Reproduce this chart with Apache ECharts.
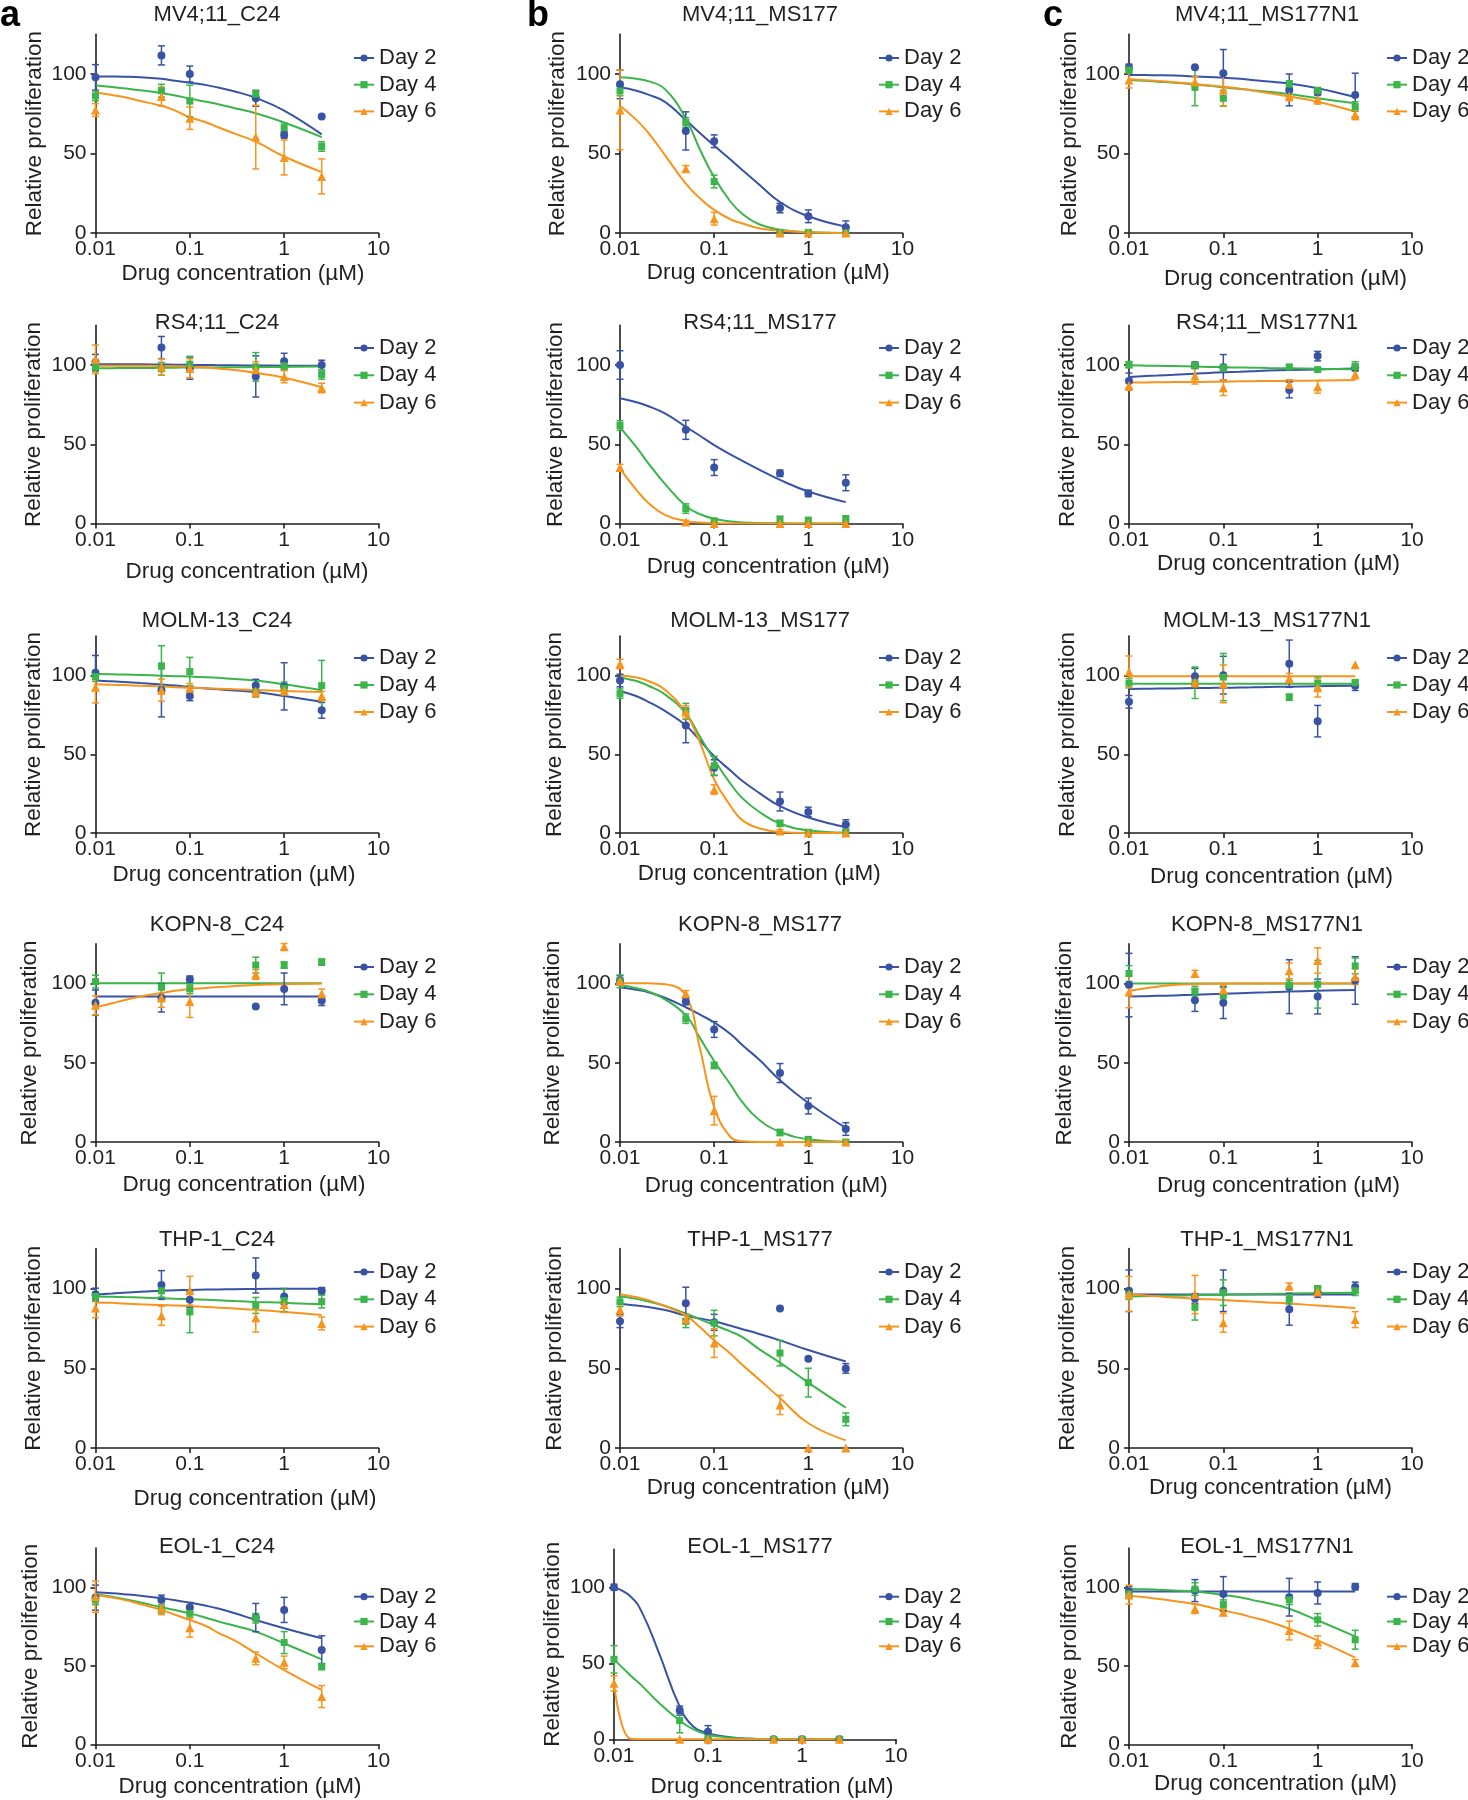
<!DOCTYPE html>
<html><head><meta charset="utf-8">
<script src="https://cdn.jsdelivr.net/npm/echarts@6/dist/echarts.min.js"></script>
<style>html,body{margin:0;padding:0;background:#fff}#c{width:1468px;height:1800px}</style>
</head><body><div id="c"></div>
<script>
// ---------------- DATA ----------------
const concentrations = [0.01, 0.05, 0.1, 0.5, 1, 2.5];
const fitConcentrations = [0.01, 0.015, 0.02, 0.03, 0.05, 0.07, 0.1, 0.15, 0.2, 0.3, 0.5, 1, 2.5];
const days = ['Day 2', 'Day 4', 'Day 6'];
const xTicks = [0.01, 0.1, 1, 10];
const yTicks = [0, 50, 100];
const panelTitles = [
  'MV4;11_C24', 'MV4;11_MS177', 'MV4;11_MS177N1',
  'RS4;11_C24', 'RS4;11_MS177', 'RS4;11_MS177N1',
  'MOLM-13_C24', 'MOLM-13_MS177', 'MOLM-13_MS177N1',
  'KOPN-8_C24', 'KOPN-8_MS177', 'KOPN-8_MS177N1',
  'THP-1_C24', 'THP-1_MS177', 'THP-1_MS177N1',
  'EOL-1_C24', 'EOL-1_MS177', 'EOL-1_MS177N1'
];
const panelLetters = ['a', 'b', 'c'];

// MV4;11
const mv411_c24_mean = [[97.9, 111.7, 100, 84.7, 61.7, 73.2], [86.2, 89.5, 83, 87.4, 66.3, 54.4], [77.4, 85.8, 72.2, 60.3, 47.5, 35.6]];
const mv411_c24_sd = [[8, 6, 5, 5, 2, 0], [3, 4, 10, 2, 3, 3], [4, 6, 7, 20, 11, 11]];
const mv411_c24_fit = [[98.5, 98.4, 98.3, 98, 97, 95.8, 94.5, 93, 91.5, 89, 85, 77, 62], [92.7, 91.8, 91, 89.8, 88, 86.5, 84.5, 82.5, 81, 78.5, 75.3, 69.5, 60.3], [88.3, 86.8, 85.5, 83, 80, 77, 72.8, 69.5, 66.5, 62.5, 57.5, 48.1, 38.3]];

const mv411_ms177_mean = [[93.5, 64.2, 57.7, 15.7, 10.5, 3.6], [89.3, 69.5, 32.4, 0.4, 0.4, 0], [77.4, 40.4, 9, 0, 0, 0]];
const mv411_ms177_sd = [[9, 12, 4, 3, 4, 4], [3, 3, 4, 1, 1, 0.5], [25, 2, 4, 0, 0, 0]];
const mv411_ms177_fit = [[91.6, 89.5, 87, 82.5, 71, 63, 55, 46, 39.5, 30.5, 19.5, 10.5, 4], [97.9, 97, 95.5, 90.5, 72, 53, 35, 19.5, 12, 5.5, 2, 0.4, 0], [80, 71, 63, 49, 31, 22, 14.5, 8.5, 6, 3, 1.5, 0.5, 0]];

const mv411_ms177n1_mean = [[104.2, 104.2, 100.4, 90, 88.5, 86.8], [102.5, 91.6, 84.7, 93.7, 89.5, 79.5], [96.2, 95.2, 90, 86.2, 84.1, 74.3]];
const mv411_ms177n1_sd = [[2, 0, 15, 10, 2, 13.7], [2, 11.5, 5, 2, 2, 3], [5, 3, 10, 3, 3, 3]];
const mv411_ms177n1_fit = [[99.4, 99.3, 99.2, 99, 98.5, 98.1, 97.7, 97, 96.3, 95.3, 94, 91, 85.4], [96.2, 95.7, 95.2, 94.5, 93.4, 92.6, 91.6, 90.6, 89.8, 88.8, 87.4, 84.7, 81.6], [96.7, 96.1, 95.6, 94.8, 93.7, 92.9, 92, 90.8, 89.7, 88, 85.8, 82.6, 76.4]];

// RS4;11
const rs411_c24_mean = [[101.7, 111, 98, 92.8, 102.4, 100], [98.8, 97.6, 100.5, 98.8, 99.5, 94], [103.6, 98.8, 98, 97, 92.8, 85.5]];
const rs411_c24_sd = [[5, 7, 7, 13, 5, 3], [3, 4, 5, 9, 3, 3], [9, 5, 6, 5, 4, 3]];
const rs411_c24_fit = [[100.5, 100.5, 100.4, 100.4, 100.3, 100.2, 100.1, 100, 99.9, 99.8, 99.7, 99.6, 99.5], [98, 98, 98.1, 98.1, 98.2, 98.3, 98.4, 98.5, 98.5, 98.6, 98.7, 98.8, 99], [99.6, 99.6, 99.6, 99.5, 99.4, 99.2, 98.9, 98.4, 97.8, 96.8, 95, 92, 86]];

const rs411_ms177_mean = [[100, 59.1, 35.3, 31.7, 19, 25.7], [61.8, 9.4, 1.4, 2.6, 1.9, 2.9], [35.3, 1, 0, 0, 0, 0]];
const rs411_ms177_sd = [[9, 6, 5, 2, 2, 5], [3, 3, 2, 2, 2, 2], [2, 1, 0, 0, 0, 0]];
const rs411_ms177_fit = [[79, 76.5, 74, 69.5, 61, 55.5, 49.5, 43.5, 39.5, 34, 27.5, 20.2, 13.5], [60.6, 48, 38, 25, 11, 6, 3, 1.3, 0.7, 0.3, 0.1, 0, 0], [34.6, 21, 13, 5.5, 1.5, 0.6, 0.2, 0, 0, 0, 0, 0, 0]];

const rs411_ms177n1_mean = [[89.9, 99.8, 98.6, 84.3, 105.6, 98.3], [100.2, 99.8, 98.3, 98.8, 97.1, 99], [87, 93, 85.7, 87.7, 86.2, 94.2]];
const rs411_ms177n1_sd = [[5, 2, 8, 5, 3, 2], [2, 2, 2, 1, 1, 3], [3, 5, 5, 3, 4, 3]];
const rs411_ms177n1_fit = [[92.5, 93, 93.3, 93.8, 94.5, 95, 95.4, 95.8, 96.1, 96.5, 96.8, 97.2, 97.8], [99.8, 99.6, 99.5, 99.3, 99, 98.8, 98.6, 98.4, 98.3, 98.1, 97.9, 97.6, 97.3], [88.9, 89, 89.1, 89.2, 89.3, 89.4, 89.5, 89.7, 89.8, 89.9, 90, 90.2, 90.6]];

// MOLM-13
const molm13_c24_mean = [[101.7, 90.7, 87, 93.6, 93.1, 77.9], [99.3, 105.9, 102.5, 89.5, 91.9, 93.6], [92.6, 90.7, 91.9, 90.2, 90.7, 87]];
const molm13_c24_sd = [[11, 17, 3, 4, 15, 5], [3, 13, 9, 3, 4, 16], [10, 7, 3, 4, 3, 3]];
const molm13_c24_fit = [[96.8, 96.3, 95.9, 95.2, 94.3, 93.6, 92.6, 91.8, 91.2, 90.4, 89.5, 87, 83.3], [101, 100.8, 100.6, 100.3, 99.9, 99.6, 99.3, 98.9, 98.5, 97.8, 96.8, 94.4, 90.7], [94.4, 94.1, 93.9, 93.5, 93, 92.6, 92.3, 91.9, 91.6, 91.2, 90.8, 90.2, 89.5]];

const molm13_ms177_mean = [[96.8, 68.3, 41.5, 20, 13.4, 5.4], [88.5, 77.3, 42.7, 6.1, 0.5, 0.5], [107.3, 76.8, 27.6, 1.2, 0, 0]];
const molm13_ms177_sd = [[4, 11, 5, 6, 3, 3], [3, 5, 6, 2, 1, 1], [3, 4, 3, 1, 0, 0]];
const molm13_ms177_fit = [[90.2, 86.8, 83.3, 77.5, 68.3, 59, 48.8, 39.5, 33, 25.5, 17, 9.8, 3.7], [98.8, 96.5, 93.5, 88, 76, 61.5, 46.5, 31, 22, 13.5, 6, 1.7, 0.2], [100, 98.7, 96.5, 91, 76, 58, 34, 17, 8, 3, 0.6, 0, 0]];

const molm13_ms177n1_mean = [[83.3, 99.5, 100.2, 107.5, 71, 93.5], [95.2, 95.4, 99, 86.2, 95.2, 95.4], [102.4, 95.9, 94.7, 98.3, 92.3, 106.8]];
const molm13_ms177n1_sd = [[4, 5, 12, 15, 10, 3], [3, 10, 15, 2, 4, 2], [10, 3, 12, 3, 6, 0]];
const molm13_ms177n1_fit = [[91.5, 91.6, 91.7, 91.8, 92, 92.1, 92.2, 92.4, 92.5, 92.7, 92.9, 93.2, 93.5], [94.7, 94.7, 94.7, 94.7, 94.7, 94.7, 94.7, 94.7, 94.7, 94.7, 94.7, 94.7, 94.7], [99.5, 99.5, 99.5, 99.5, 99.5, 99.5, 99.5, 99.5, 99.5, 99.5, 99.5, 99.5, 99.5]];

// KOPN-8
const kopn8_c24_mean = [[87.9, 91, 102.7, 85.5, 96.6, 89.1], [101.2, 97.6, 96.6, 111.6, 111.6, 113.5], [86.2, 91, 88.6, 105.6, 123.2, 93.5]];
const kopn8_c24_sd = [[8, 9, 2, 0, 10, 3], [4, 9, 3, 5, 2, 2], [6, 6, 10, 3, 2, 3]];
const kopn8_c24_fit = [[91.8, 91.8, 91.8, 91.8, 91.8, 91.8, 91.8, 91.8, 91.8, 91.8, 91.8, 91.8, 91.8], [100.2, 100.2, 100.2, 100.2, 100.2, 100.2, 100.2, 100.2, 100.2, 100.2, 100.2, 100.2, 100.2], [85, 87.5, 89.4, 91.8, 94, 95.4, 96.4, 97.2, 97.8, 98.4, 99, 99.6, 100]];

const kopn8_ms177_mean = [[101.9, 88.6, 71, 43.5, 22.7, 8.2], [101.4, 77.8, 48.3, 6, 1.4, 0], [101.4, 93.5, 19.8, 0, 0, 0]];
const kopn8_ms177_sd = [[3, 2, 5, 6, 5, 4], [4, 3, 2, 2, 2, 1], [2, 2, 9, 0, 0, 0]];
const kopn8_ms177_fit = [[97.6, 96, 94.5, 91, 85, 80.5, 75.4, 68, 61, 52, 39, 24.6, 8.9], [99, 97, 95, 90, 80, 66, 51, 36, 25, 14, 6.5, 1.7, 0.2], [100.2, 100.2, 100.1, 99.5, 92.3, 60, 22, 3, 0.5, 0, 0, 0, 0]];

const kopn8_ms177n1_mean = [[99, 89.4, 87.9, 98, 91.8, 101.9], [106.3, 95.2, 92.3, 99, 99.5, 111.1], [94.7, 106.3, 96, 108, 114.5, 104.3]];
const kopn8_ms177n1_sd = [[20, 7, 10, 17, 11, 15], [5, 3, 5, 3, 15, 5], [10, 2, 3, 5, 8, 5]];
const kopn8_ms177n1_fit = [[91.8, 92, 92.2, 92.5, 92.9, 93.2, 93.5, 93.9, 94.2, 94.5, 94.9, 95.4, 95.9], [100, 100, 100, 100, 100, 100, 100, 100, 100, 100, 100, 100, 100], [95.4, 97, 98, 99, 99.6, 99.8, 99.9, 100, 100, 100, 100, 100, 100]];

// THP-1
const thp1_c24_mean = [[96.2, 102.2, 93, 108.2, 95, 98.6], [95, 98.6, 85.3, 89.4, 92.5, 91.8], [87.7, 82.9, 98.6, 81.7, 90, 78.1]];
const thp1_c24_sd = [[4, 9, 5, 11, 5, 2], [3, 4, 13, 5, 7, 4], [6, 6, 9, 9, 5, 4]];
const thp1_c24_fit = [[96.2, 96.9, 97.4, 98, 98.6, 98.9, 99.1, 99.3, 99.4, 99.6, 99.7, 99.8, 99.8], [95, 94.8, 94.6, 94.3, 93.9, 93.6, 93.3, 92.9, 92.6, 92.1, 91.6, 91, 90.1], [91.3, 91, 90.6, 90.1, 89.6, 89.3, 88.9, 88.4, 88, 87.4, 86.6, 85.3, 83.4]];

const thp1_ms177_mean = [[79.5, 90.8, 78.8, 87.5, 55.9, 49.9], [91.6, 79.5, 78.3, 59.5, 41, 18], [86.7, 80.7, 65.8, 27, 0, 0]];
const thp1_ms177_sd = [[4, 10, 5, 0, 0, 3], [3, 4, 8, 8, 9, 4], [4, 3, 9, 6, 0, 0]];
const thp1_ms177_fit = [[90.4, 89.3, 88.4, 86.5, 83.1, 81.2, 79.5, 76.6, 74.5, 71.5, 67.5, 61.4, 54.2], [95.2, 93.5, 91.8, 89, 84.3, 80.8, 77.1, 73, 69.5, 62, 53.5, 41, 25.3], [96.4, 94.5, 92.7, 89, 83.1, 76, 67.5, 59, 52, 43, 31.3, 15.5, 4.8]];

const thp1_ms177n1_mean = [[98.6, 93.8, 98.6, 87, 97.4, 101], [96.2, 88.2, 97.4, 93.3, 99.8, 98.6], [96.6, 96.2, 78.6, 101.4, 98.1, 80.5]];
const thp1_ms177n1_sd = [[13, 3, 13, 10, 3, 3], [3, 8, 8, 3, 2, 3], [11, 12, 6, 2, 3, 5]];
const thp1_ms177n1_fit = [[96.2, 96.2, 96.2, 96.2, 96.2, 96.2, 96.2, 96.2, 96.2, 96.2, 96.2, 96.2, 96.2], [95, 95.2, 95.3, 95.5, 95.8, 95.9, 96.1, 96.3, 96.4, 96.6, 96.8, 97.1, 97.4], [96.2, 95.6, 95.1, 94.4, 93.6, 93.2, 92.8, 92.2, 91.8, 91.3, 90.6, 89.3, 87.7]];

// EOL-1
const eol1_c24_mean = [[93.4, 92, 87.3, 80.7, 85.6, 60.1], [91.9, 86, 83.4, 80.3, 64.8, 49.5], [94, 86.6, 74.3, 54.8, 52.2, 30.4]];
const eol1_c24_sd = [[8, 3, 3, 9, 8, 9], [3, 3, 3, 3, 7, 2], [10, 4, 6, 4, 4, 7]];
const eol1_c24_fit = [[96.8, 96.2, 95.6, 94.6, 93, 91.8, 90.2, 88.2, 86.5, 83.5, 79.2, 73.9, 67.5], [95.5, 94, 92.5, 90.3, 87.3, 85.5, 83.4, 80.5, 78.3, 75.5, 71.8, 64.3, 54.1], [95.1, 93.5, 92, 89.3, 85.6, 82.5, 79.2, 75.2, 71, 66, 58, 47.3, 34.6]];

const eol1_ms177_mean = [[100, 18.9, 5, 0, 0, 0], [52.6, 12.3, 0.7, 0, 0, 0], [36.8, 0, 0, 0, 0, 0]];
const eol1_ms177_sd = [[2, 3, 4, 0.5, 0.5, 0.5], [9, 8, 0, 0, 0, 0], [5, 0, 0, 0, 0, 0]];
const eol1_ms177_fit = [[100, 94, 83, 57, 21.5, 8.3, 4, 1.8, 0.9, 0.3, 0, 0, 0], [52.6, 42, 35, 24, 12.3, 6.5, 3, 1.4, 0.8, 0.3, 0.1, 0, 0], [36.8, 0.3, 0, 0, 0, 0, 0, 0, 0, 0, 0, 0, 0]];

const eol1_ms177n1_mean = [[97.5, 97.9, 95.8, 93.7, 96.4, 100.4], [95.8, 98.9, 89, 92, 79.3, 66.6], [95.3, 86.3, 84.1, 72.5, 65.1, 52]];
const eol1_ms177n1_sd = [[3, 7, 11, 12, 7, 2], [3, 4, 3, 3, 4, 6], [6, 3, 2, 6, 4, 2]];
const eol1_ms177n1_fit = [[97.3, 97.3, 97.3, 97.3, 97.3, 97.3, 97.3, 97.3, 97.3, 97.3, 97.3, 97.3, 97.3], [98.9, 98.7, 98.4, 98, 97.3, 96.4, 95.1, 93.6, 92, 89.8, 86.3, 78.9, 68.7], [94.7, 93.6, 92.7, 91.3, 89.4, 87.4, 85.2, 83, 81, 78.2, 73.6, 66.2, 55.2]];

const panelMeans = [mv411_c24_mean, mv411_ms177_mean, mv411_ms177n1_mean, rs411_c24_mean, rs411_ms177_mean, rs411_ms177n1_mean, molm13_c24_mean, molm13_ms177_mean, molm13_ms177n1_mean, kopn8_c24_mean, kopn8_ms177_mean, kopn8_ms177n1_mean, thp1_c24_mean, thp1_ms177_mean, thp1_ms177n1_mean, eol1_c24_mean, eol1_ms177_mean, eol1_ms177n1_mean];
const panelSds = [mv411_c24_sd, mv411_ms177_sd, mv411_ms177n1_sd, rs411_c24_sd, rs411_ms177_sd, rs411_ms177n1_sd, molm13_c24_sd, molm13_ms177_sd, molm13_ms177n1_sd, kopn8_c24_sd, kopn8_ms177_sd, kopn8_ms177n1_sd, thp1_c24_sd, thp1_ms177_sd, thp1_ms177n1_sd, eol1_c24_sd, eol1_ms177_sd, eol1_ms177n1_sd];
const panelFits = [mv411_c24_fit, mv411_ms177_fit, mv411_ms177n1_fit, rs411_c24_fit, rs411_ms177_fit, rs411_ms177n1_fit, molm13_c24_fit, molm13_ms177_fit, molm13_ms177n1_fit, kopn8_c24_fit, kopn8_ms177_fit, kopn8_ms177n1_fit, thp1_c24_fit, thp1_ms177_fit, thp1_ms177n1_fit, eol1_c24_fit, eol1_ms177_fit, eol1_ms177n1_fit];

// ---------------- LAYOUT (pixels) ----------------
const colLayout = [
  { x0: 95.5, x10: 378.5, title: 217, legend: 353, letter: 0 },
  { x0: 620, x10: 902.5, title: 760, legend: 878, letter: 527 },
  { x0: 1129, x10: 1412, title: 1267, legend: 1386, letter: 1043 }
];
const rowLayout = [
  { y0: 233, y100: 74, title: 15, legend: 58, gap: 26.7 },
  { y0: 523.5, y100: 365, title: 323, legend: 348, gap: 27.3 },
  { y0: 833, y100: 675.5, title: 621, legend: 658, gap: 27 },
  { y0: 1142, y100: 983.5, title: 925, legend: 967, gap: 27.3 },
  { y0: 1448, y100: 1288.5, title: 1240, legend: 1272, gap: 27.3 },
  { y0: 1744.3, y100: 1587.3, title: 1547, legend: 1596.7, gap: 24.8 }
];
const xNameBelow = [[40, 37, 45], [47.5, 42.5, 40], [41, 40, 43], [42, 43, 43], [50, 38, 39], [42.4, 47, 39]];
const xNameShift = [[6, 7, 15], [10, 7, 8], [-3, -2, 1], [7, 5, 8], [18, 7, 0], [3, 17, 5]];
const yNameDist = [[60, 62, 57], [61, 64, 61], [61, 65, 61], [65, 67, 64], [61, 65, 61], [64, 61, 57]];

// ---------------- BUILD ----------------
const TXT = '#231f20';
const FONT = "'Liberation Sans', Arial, Helvetica, sans-serif";
const dayColors = ['#3953a4', '#3bb54a', '#f7941d'];
const daySymbols = ['circle', 'rect', 'triangle'];
const daySymbolSizes = [8, 7, 9];
const legendText = { fontSize: 22, color: TXT, fontFamily: FONT, lineHeight: 22 };

function errRender(params, api) {
  const x = api.value(0), lo = api.value(1), hi = api.value(2);
  if (!(hi - lo > 0.2)) return null;
  const p1 = api.coord([x, hi]);
  const p2 = api.coord([x, lo]);
  const w = 3.5;
  const style = { stroke: api.visual('color'), lineWidth: 1.5, fill: null };
  return {
    type: 'group',
    children: [
      { type: 'line', shape: { x1: p1[0], y1: p1[1], x2: p2[0], y2: p2[1] }, style },
      { type: 'line', shape: { x1: p1[0] - w, y1: p1[1], x2: p1[0] + w, y2: p1[1] }, style },
      { type: 'line', shape: { x1: p2[0] - w, y1: p2[1], x2: p2[0] + w, y2: p2[1] }, style }
    ]
  };
}

const grids = [], xAxes = [], yAxes = [], legends = [], graphics = [];
const curveSeries = [], errSeries = [], dotSeries = [];

for (let i = 0; i < 18; i++) {
  const r = Math.floor(i / 3), c = i % 3;
  const col = colLayout[c], row = rowLayout[r];
  let x0 = col.x0, x10 = col.x10, y0 = row.y0, y100 = row.y100;
  if (i === 16) { x0 = 614; x10 = 896; y0 = 1739.3; }
  const h = 1.25 * (y0 - y100);
  grids.push({ left: x0, top: y0 - h, width: x10 - x0, height: h, containLabel: false, outerBoundsMode: 'none' });
  const axisLine = { show: true, onZero: false, lineStyle: { color: TXT, width: 1.6 } };
  const dx = xNameShift[r][c];
  xAxes.push({
    type: 'log', logBase: 10, gridIndex: i, min: 0.01, max: 10,
    axisLine, splitLine: { show: false }, minorTick: { show: false }, minorSplitLine: { show: false },
    axisTick: { show: true, length: 5, lineStyle: { color: TXT, width: 1.6 } },
    axisLabel: { fontSize: 21, color: TXT, fontFamily: FONT, margin: 6, formatter: v => String(parseFloat(Number(v).toPrecision(6))) },
    name: 'Drug concentration (µM)', nameLocation: 'middle', nameGap: xNameBelow[r][c] - 11,
    nameTextStyle: { fontSize: 22.5, color: TXT, fontFamily: FONT, padding: dx >= 0 ? [0, 0, 0, 2 * dx] : [0, -2 * dx, 0, 0] }
  });
  yAxes.push({
    type: 'value', gridIndex: i, min: 0, max: 125, interval: 50,
    axisLine, splitLine: { show: false },
    axisTick: { show: true, length: 5, lineStyle: { color: TXT, width: 1.6 }, customValues: yTicks },
    axisLabel: { fontSize: 21, color: TXT, fontFamily: FONT, margin: 9, customValues: yTicks },
    name: 'Relative proliferation', nameLocation: 'middle', nameGap: yNameDist[r][c] - 11,
    nameTextStyle: { fontSize: 22.5, color: TXT, fontFamily: FONT }
  });
  legends.push({
    data: days.map(n => ({ name: n, textStyle: legendText })),
    orient: 'vertical', left: col.legend, top: row.legend - 11,
    itemWidth: 20, itemHeight: 9, itemGap: row.gap - 22, padding: 0, selectedMode: false,
    textStyle: legendText
  });
  graphics.push({
    type: 'text', x: col.title, y: row.title, silent: true,
    style: { text: panelTitles[i], fill: TXT, font: '22px ' + FONT, align: 'center', verticalAlign: 'middle' }
  });
  const mean = panelMeans[i], sd = panelSds[i], fit = panelFits[i];
  for (let d = 0; d < 3; d++) {
    curveSeries.push({
      type: 'line', name: days[d], xAxisIndex: i, yAxisIndex: i,
      data: fitConcentrations.map((x, k) => [x, fit[d][k]]),
      smooth: 0.45, showSymbol: false,
      symbol: daySymbols[d], symbolSize: daySymbolSizes[d],
      lineStyle: { color: dayColors[d], width: 2 }, itemStyle: { color: dayColors[d] },
      silent: true, z: 2, animation: false
    });
    errSeries.push({
      type: 'custom', name: days[d], xAxisIndex: i, yAxisIndex: i,
      data: concentrations.map((x, k) => [x, Math.max(0, mean[d][k] - sd[d][k]), mean[d][k] + sd[d][k]]),
      encode: { x: 0, y: [1, 2] }, renderItem: errRender,
      itemStyle: { color: dayColors[d] }, silent: true, z: 3, animation: false
    });
    dotSeries.push({
      type: 'scatter', name: days[d], xAxisIndex: i, yAxisIndex: i,
      data: concentrations.map((x, k) => [x, mean[d][k]]),
      symbol: daySymbols[d], symbolSize: daySymbolSizes[d],
      itemStyle: { color: dayColors[d], opacity: 1 }, silent: true, z: 4, animation: false
    });
  }
}
for (let c = 0; c < 3; c++) {
  graphics.push({
    type: 'text', x: colLayout[c].letter, y: 16, silent: true,
    style: { text: panelLetters[c], fill: '#000', font: 'bold 36px ' + FONT, align: 'left', verticalAlign: 'middle' }
  });
}

const chart = echarts.init(document.getElementById('c'), null, { renderer: 'canvas', width: 1468, height: 1800 });
chart.setOption({
  backgroundColor: '#ffffff',
  animation: false,
  textStyle: { fontFamily: FONT },
  grid: grids, xAxis: xAxes, yAxis: yAxes, legend: legends,
  graphic: graphics,
  series: curveSeries.concat(errSeries, dotSeries)
});
</script></body></html>
